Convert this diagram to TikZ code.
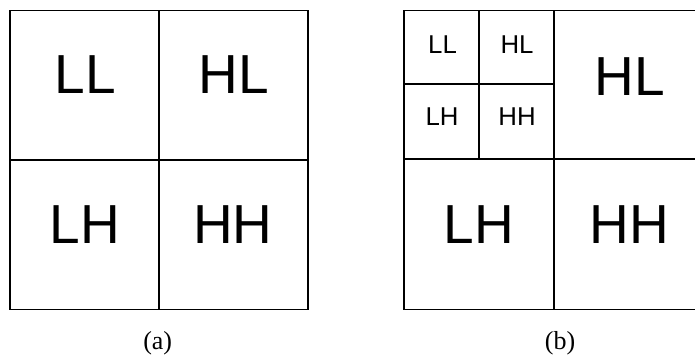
\documentclass[tikz,border=0pt]{standalone}
\usepackage{fontspec}
\setmainfont{Liberation Serif}
\newfontfamily\labelfont{Liberation Sans}
\begin{document}
\begin{tikzpicture}[x=1pt,y=-1pt,
  gridline/.style={line width=1.6pt,line cap=rect},
  biglabel/.style={anchor=base,inner sep=0pt,font=\labelfont\fontsize{55}{55}\selectfont},
  smalllabel/.style={anchor=base,inner sep=0pt,font=\labelfont\fontsize{25.8}{26}\selectfont},
  caption/.style={anchor=base,inner sep=0pt,font=\fontsize{26}{26}\selectfont}]
\useasboundingbox (0,0) rectangle (695,354);
% (a)
\draw[gridline] (10,10.5) rectangle (308,309.5);
\draw[gridline] (159,10.5) -- (159,309.5);
\draw[gridline] (10,160) -- (308,160);
\node[biglabel] (aLL) at (85.5,93.5) {LL};
\node[biglabel] (aHL) at (234,93.5) {HL};
\node[biglabel] (aLH) at (85,243) {LH};
\node[biglabel] (aHH) at (233,243) {HH};
\node[caption] (capa) at (157.7,349) {(a)};
% (b)
\begin{scope}
\clip (395,0) rectangle (695,354);
\draw[gridline] (404,10.5) rectangle (716,309.5);
\draw[gridline] (554,10.5) -- (554,309.5);
\draw[gridline] (404,159) -- (716,159);
\draw[gridline] (479,10.5) -- (479,159);
\draw[gridline] (404,84) -- (554,84);
\end{scope}
\node[smalllabel] (bLL) at (442.5,53.5) {LL};
\node[smalllabel] (bHL) at (517,53.5) {HL};
\node[smalllabel] (bLH) at (442,125) {LH};
\node[smalllabel] (bHH) at (517,125) {HH};
\node[biglabel] (bHLbig) at (630,95) {HL};
\node[biglabel] (bLHbig) at (479,243) {LH};
\node[biglabel] (bHHbig) at (629,243) {HH};
\node[caption] (capb) at (560,349) {(b)};
\end{tikzpicture}
\end{document}
